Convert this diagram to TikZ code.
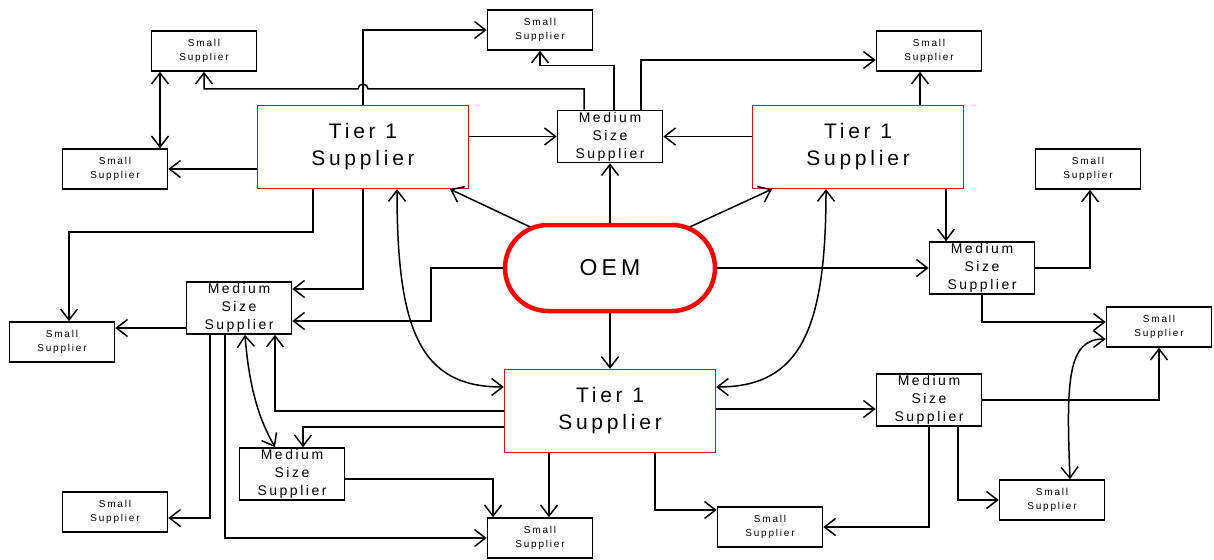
\documentclass[tikz,border=0pt]{standalone}
\usepackage{fontspec}
\setmainfont{Liberation Sans}[LetterSpace=18]
\usepackage{xcolor}
\usepackage{tikz}
\usetikzlibrary{arrows.meta}
\definecolor{tierred}{RGB}{210,20,20}

\begin{document}
\begin{tikzpicture}[
    x=1pt, y=-1pt,
    >={Straight Barb[length=11pt, width=17pt]},
    small/.style={draw, line width=1.6pt, minimum width=105pt, minimum height=40pt, inner sep=0pt, align=center, font=\fontsize{10}{14}\selectfont},
    medium/.style={draw, line width=1.6pt, minimum width=105pt, minimum height=52pt, inner sep=0pt, align=center, font=\fontsize{14}{18}\selectfont},
    tier/.style={draw=tierred, line width=1.3pt, minimum width=211pt, minimum height=83pt, inner sep=0pt, align=center, font=\fontsize{21}{27}\selectfont},
    maker/.style={draw=red, line width=4.5pt, rounded corners=43pt, minimum width=210pt, minimum height=86pt, font=\fontsize{23}{27}\selectfont},
    arr/.style={->, line width=1.5pt},
    both/.style={<->, line width=1.5pt},
]
    \useasboundingbox (0,0) rectangle (1214,559);

    \node[maker] (oem) at (610,268) {OEM};
    \node[tier] (tierL) at (363,147) {Tier 1\\Supplier};
    \node[tier] (tierR) at (858,147) {Tier 1\\Supplier};
    \node[tier] (tierB) at (610,411) {Tier 1\\Supplier};

    \node[medium] (medT) at (610,136.5) {Medium\\Size\\Supplier};
    \node[medium] (medR) at (982,268) {Medium\\Size\\Supplier};
    \node[medium] (medL) at (239,308) {Medium\\Size\\Supplier};
    \node[medium] (medBL) at (292,474) {Medium\\Size\\Supplier};
    \node[medium] (medBR) at (929,400) {Medium\\Size\\Supplier};

    \node[small] (sTL) at (204,51) {Small\\Supplier};
    \node[small] (sL) at (115,169) {Small\\Supplier};
    \node[small] (sT) at (540,30) {Small\\Supplier};
    \node[small] (sTR) at (929,51) {Small\\Supplier};
    \node[small] (sR) at (1088,169) {Small\\Supplier};
    \node[small] (sML) at (62,342) {Small\\Supplier};
    \node[small] (sBL) at (115,512) {Small\\Supplier};
    \node[small] (sB) at (540,538) {Small\\Supplier};
    \node[small] (sBM) at (770,527) {Small\\Supplier};
    \node[small] (sMR) at (1159,327) {Small\\Supplier};
    \node[small] (sBR) at (1052,500) {Small\\Supplier};

    \coordinate (hop) at (363,89);

    % OEM
    \draw[arr] (oem.north) -- (medT.south);
    \draw[arr] ([shift={(27pt,-4pt)}]oem.north west) -- ([xshift=87pt]tierL.south);
    \draw[arr] ([shift={(-27pt,-4pt)}]oem.north east) -- ([xshift=-86pt]tierR.south);
    \draw[arr] (oem.east) -- (medR.west);
    \draw[arr] (oem.south) -- (tierB.north);
    \draw[arr] (oem.west) -- ++(-72,0) |- ([yshift=-13pt]medL.east);

    % left tier 1
    \draw[arr] (tierL.north) |- (sT.west);
    \draw[arr] (tierL.west |- sL.east) -- (sL.east);
    \draw[arr] (tierL.east |- medT.west) -- (medT.west);
    \draw[arr] ([xshift=-50pt]tierL.south) -- ++(0,43) -| ([xshift=7pt]sML.north);
    \draw[arr] (tierL.south) |- ([yshift=19pt]medL.east);
    \draw[both] ([xshift=34pt]tierL.south) .. controls +(0,141) and +(-84,0) .. ([yshift=24pt]tierB.west);
    \draw[both] ([xshift=-44pt]sTL.south) -- ([xshift=-44pt]sTL.south |- sL.north);

    % right tier 1
    \draw[arr] (tierR.west |- medT.east) -- (medT.east);
    \draw[arr] ([xshift=-9pt]sTR.south |- tierR.north) -- ([xshift=-9pt]sTR.south);
    \draw[arr] ([xshift=-36pt]medR.north |- tierR.south) -- ([xshift=-36pt]medR.north);
    \draw[both] ([xshift=-32pt]tierR.south) .. controls +(0,141) and +(84,0) .. ([yshift=24pt]tierB.east);

    % top medium
    \draw[arr] ([xshift=-26pt]medT.north) |- ([xshift=5pt]hop) arc[start angle=0, end angle=180, radius=5pt] -| (sTL.south);
    \draw[arr] ([xshift=4pt]medT.north) -- ++(0,-44) -| (sT.south);
    \draw[arr] ([xshift=31pt]medT.north) |- ([yshift=-9pt]sTR.west);

    % right medium
    \draw[arr] (medR.east) -| ([xshift=2pt]sR.south);
    \draw[arr] (medR.south) |- ([yshift=5pt]sMR.west);
    \draw[both] ([yshift=-12pt]sMR.west) .. controls +(-38,0) and +(-4,-100) .. ([xshift=18pt]sBR.north);

    % bottom tier 1
    \draw[arr] ([yshift=2pt]tierB.east) -- ([yshift=2pt]tierB.east -| medBR.west);
    \draw[arr] ([xshift=45pt]tierB.south) |- ([yshift=17pt]sBM.west);
    \draw[arr] ([xshift=9pt]sB.north |- tierB.south) -- ([xshift=9pt]sB.north);
    \draw[arr] (tierB.west) -| ([xshift=36pt]medL.south);
    \draw[arr] ([yshift=-16pt]tierB.west) -| ([xshift=11pt]medBL.north);

    % bottom right medium
    \draw[arr] (medBR.east) -| (sMR.south);
    \draw[arr] ([xshift=29pt]medBR.south) |- (sBR.west);
    \draw[arr] (medBR.south) |- (sBM.east);

    % left medium
    \draw[arr] ([yshift=-20pt]medL.west) -- ([yshift=-20pt]medL.west -| sML.east);
    \draw[arr] ([xshift=-29pt]medL.south) |- ([yshift=-6pt]sBL.east);
    \draw[arr] ([xshift=-14pt]medL.south) |- (sB.west);
    \draw[both] ([xshift=6pt]medL.south) .. controls +(5,66) and +(-10,-18) .. ([xshift=-17pt]medBL.north);
    \draw[arr] ([yshift=-5pt]medBL.east) -| ([xshift=-47pt]sB.north);
\end{tikzpicture}
\end{document}
